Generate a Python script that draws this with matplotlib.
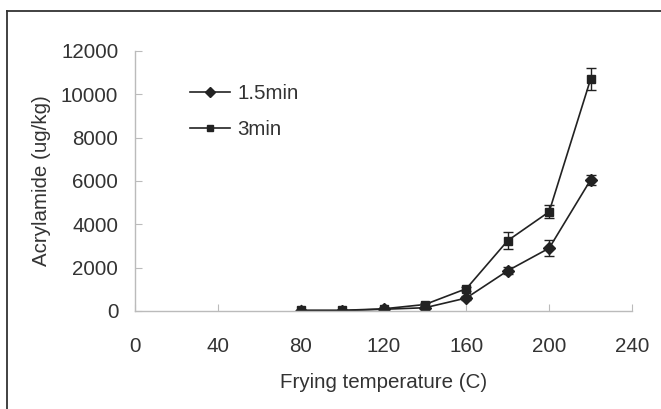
import matplotlib
matplotlib.use("Agg")
import matplotlib.pyplot as plt
from matplotlib.lines import Line2D

temps = [80, 100, 120, 140, 160, 180, 200, 220]
acr_15 = [20, 20, 80, 150, 600, 1860, 2900, 6050]
err_15 = [20, 20, 30, 50, 80, 150, 380, 250]
acr_3 = [30, 30, 100, 300, 1030, 3250, 4580, 10700]
err_3 = [20, 20, 40, 60, 100, 380, 300, 500]
xticks = [0, 40, 80, 120, 160, 200, 240]
yticks = [0, 2000, 4000, 6000, 8000, 10000, 12000]

plt.rcParams['font.family'] = ['Liberation Sans', 'DejaVu Sans']
FS = 14.8
fig = plt.figure(figsize=(6.61, 4.09), dpi=100)
ax = fig.add_axes([135/661, 1-311/409, (632-135)/661, (311-51)/409])

lc = '#222222'
ax.errorbar(temps, acr_15, yerr=err_15, color=lc, marker='D', markersize=6.3,
            lw=1.2, capsize=3.5, elinewidth=1.0, capthick=1.0, label='1.5min')
ax.errorbar(temps, acr_3, yerr=err_3, color=lc, marker='s', markersize=6.2,
            lw=1.2, capsize=3.5, elinewidth=1.0, capthick=1.0, label='3min')

ax.set_xlim(0, 240)
ax.set_ylim(0, 12000)
ax.set_xticks(xticks)
ax.set_yticks(yticks)
ax.tick_params(direction='in', length=5, color='#bbbbbb', labelsize=FS,
               labelcolor='#333333')
ax.tick_params(axis='y', pad=12)
ax.tick_params(axis='x', pad=19)
for s in ['top', 'right']:
    ax.spines[s].set_visible(False)
for s in ['left', 'bottom']:
    ax.spines[s].set_color('#bbbbbb')
    ax.spines[s].set_linewidth(1.0)

ax.set_xlabel('Frying temperature (C)', fontsize=FS, color='#333333', labelpad=12)
ax.set_ylabel('Acrylamide (ug/kg)', fontsize=FS, color='#333333', labelpad=7)

handles = [Line2D([], [], color=lc, marker='D', markersize=5, lw=1.2),
           Line2D([], [], color=lc, marker='s', markersize=5, lw=1.2)]
ax.legend(handles, ['1.5min', '3min'], loc='upper left',
          bbox_to_anchor=((190-135)/497, (311-84)/260), frameon=False,
          fontsize=FS, handlelength=1.95, handletextpad=0.35,
          labelspacing=0.85, borderpad=0, borderaxespad=0,
          labelcolor='#333333')

# figure frame (left and top)
fig.add_artist(Line2D([7/661, 7/661], [0, 1-11/409], transform=fig.transFigure,
                      color='#333333', lw=1.3))
fig.add_artist(Line2D([7/661, 1], [1-11/409, 1-11/409], transform=fig.transFigure,
                      color='#333333', lw=1.3))

fig.savefig('out.png', dpi=100)
